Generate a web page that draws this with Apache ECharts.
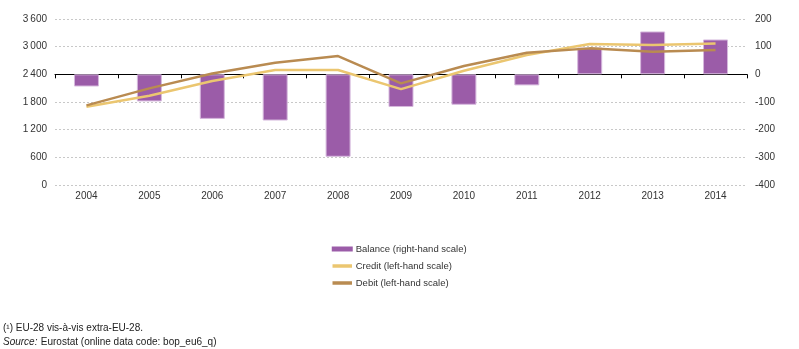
<!DOCTYPE html>
<html><head><meta charset="utf-8">
<script src="https://cdn.jsdelivr.net/npm/echarts@6/dist/echarts.min.js"></script>
<style>html,body{margin:0;padding:0;background:#fff}#c{width:799px;height:349px}</style>
</head><body><div id="c"></div>
<script>
var categories = ['2004','2005','2006','2007','2008','2009','2010','2011','2012','2013','2014'];
var balance = [-44, -98, -161, -167, -298, -118, -110, -40, 97, 155, 126];
var credit = [1697, 1935, 2254, 2492, 2495, 2080, 2477, 2818, 3056, 3034, 3071];
var debit = [1727, 2096, 2420, 2651, 2796, 2204, 2579, 2867, 2963, 2890, 2926];
var leftTicks = {min: 0, max: 3600, interval: 600};
var rightTicks = {min: -400, max: 200, interval: 100};

function fmt(v){ var s = String(Math.abs(v)); s = s.replace(/\B(?=(\d{3})+(?!\d))/g, '\u2009'); return (v<0?'-':'') + s; }
var font = 'Liberation Sans';
var chart = echarts.init(document.getElementById('c'));
chart.setOption({
  animation: false,
  textStyle: {fontFamily: font},
  grid: {left: 55, right: 52, top: 19, bottom: 164, containLabel: false},
  legend: {
    orient: 'vertical', left: 326, top: 239, itemWidth: 21, itemHeight: 5, itemGap: 7,
    textStyle: {fontFamily: font, fontSize: 9.5, color: '#333', padding: [0,0,0,-2]},
    data: [
      {name: 'Balance (right-hand scale)', icon: 'rect', itemStyle: {borderWidth: 0}},
      {name: 'Credit (left-hand scale)', icon: 'rect', itemStyle: {borderColor: '#fff', borderWidth: 1.5}},
      {name: 'Debit (left-hand scale)', icon: 'rect', itemStyle: {borderColor: '#fff', borderWidth: 1.5}}
    ]
  },
  xAxis: [
    {type: 'category', data: categories, position: 'bottom',
     axisLine: {show: false}, axisTick: {show: false},
     axisLabel: {fontFamily: font, fontSize: 10, color: '#333', margin: 6}},
    {type: 'category', data: categories, position: 'bottom',
     axisLine: {show: true, onZero: true, onZeroAxisIndex: 1, lineStyle: {color: '#000', width: 1}},
     axisTick: {show: true, length: 4, inside: false, lineStyle: {color: '#000'}},
     axisLabel: {show: false}}
  ],
  yAxis: [
    {type: 'value', min: leftTicks.min, max: leftTicks.max, interval: leftTicks.interval,
     axisLine: {show: false}, axisTick: {show: false},
     axisLabel: {fontFamily: font, fontSize: 10, color: '#333', margin: 8, formatter: fmt},
     splitLine: {show: true, lineStyle: {color: '#c8c8c8', type: [2,2], width: 1}}},
    {type: 'value', min: rightTicks.min, max: rightTicks.max, interval: rightTicks.interval, position: 'right',
     axisLine: {show: false}, axisTick: {show: false},
     axisLabel: {fontFamily: font, fontSize: 10, color: '#333', margin: 8, formatter: fmt},
     splitLine: {show: false}}
  ],
  series: [
    {name: 'Balance (right-hand scale)', type: 'bar', yAxisIndex: 1, xAxisIndex: 0, data: balance, barWidth: 25,
     itemStyle: {color: '#9b5ca8', borderColor: '#d6b9dd', borderWidth: 1}},
    {name: 'Credit (left-hand scale)', type: 'line', yAxisIndex: 0, xAxisIndex: 0, data: credit, symbol: 'none',
     lineStyle: {color: '#ebc670', width: 2.5}, itemStyle: {color: '#ebc670'}},
    {name: 'Debit (left-hand scale)', type: 'line', yAxisIndex: 0, xAxisIndex: 0, data: debit, symbol: 'none',
     lineStyle: {color: '#b98b51', width: 2.5}, itemStyle: {color: '#b98b51'}}
  ],
  graphic: [
    {type: 'text', left: 3, top: 323, style: {text: '(¹) EU-28 vis-à-vis extra-EU-28.', font: '10px "Liberation Sans"', fill: '#222'}},
    {type: 'text', left: 3, top: 336, style: {rich: {i: {fontStyle: 'italic', fontFamily: font, fontSize: 10, fill: '#222'}, n: {fontFamily: font, fontSize: 10, fill: '#222'}}, text: '{i|Source:} {n|Eurostat (online data code: bop_eu6_q)}'}}
  ]
});
</script></body></html>
